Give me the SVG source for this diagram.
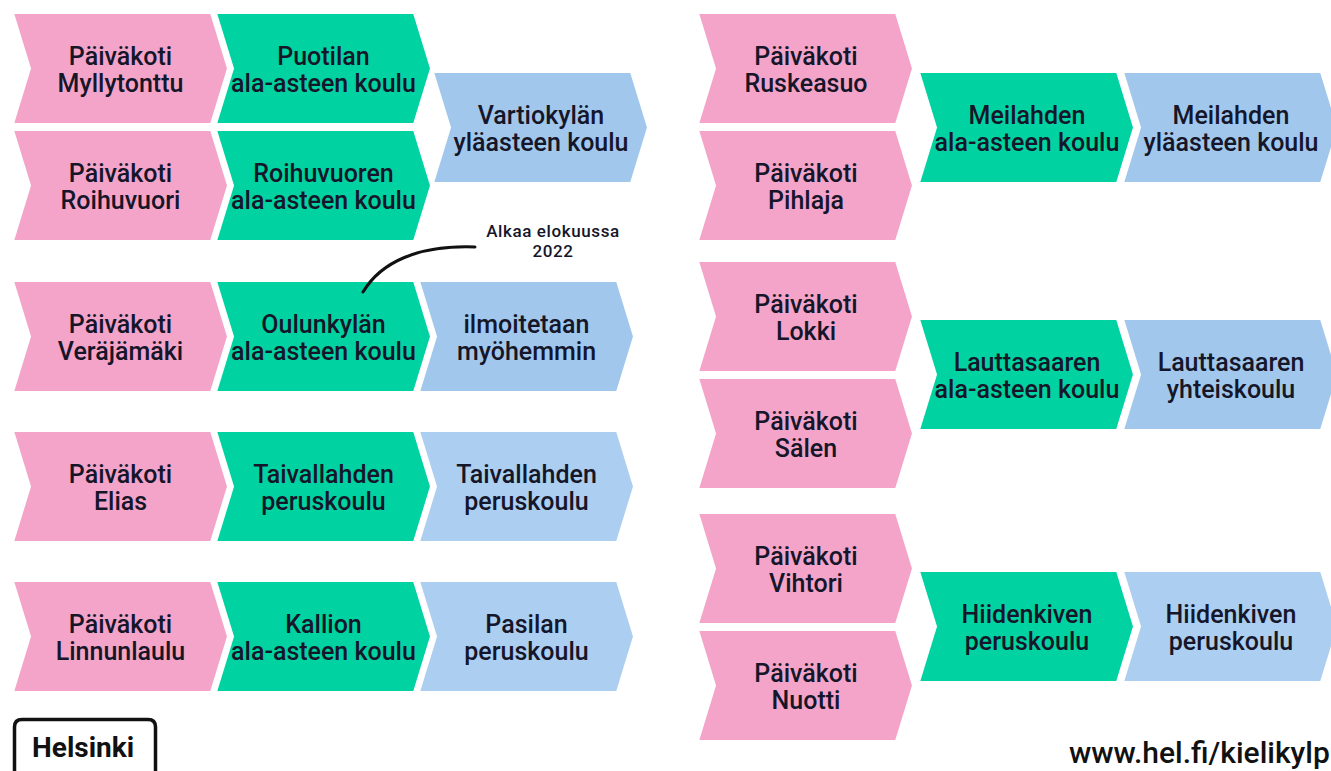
<svg xmlns="http://www.w3.org/2000/svg" xmlns:xlink="http://www.w3.org/1999/xlink" width="1331" height="771" viewBox="0 0 1331 771">
<style>
.pink{fill:#F4A4C8}
.green{fill:#00D3A1}
.blue{fill:#A1C8EC}
.blue2{fill:#ACCEF0}
#chev{stroke:#ffffff;stroke-width:2;stroke-linejoin:miter}
.t{font-family:Roboto,"Liberation Sans",Arial,sans-serif;font-weight:500;font-size:25px;fill:#15162a;text-anchor:middle}
.note{font-family:Roboto,"Liberation Sans",Arial,sans-serif;font-weight:500;font-size:17px;letter-spacing:0.6px;fill:#15162a;text-anchor:middle}
.url{font-family:Roboto,"Liberation Sans",Arial,sans-serif;font-weight:500;font-size:30px;fill:#111}
.logo{font-family:Roboto,"Liberation Sans",Arial,sans-serif;font-weight:700;font-size:28px;fill:#111}
</style>
<defs>
<path id="chev" d="M0,0 L198,0 L215,55.5 L198,111 L0,111 L17,55.5 Z"/>
</defs>
<rect width="1331" height="771" fill="#ffffff"/>

<g id="n-myllytonttu"><use xlink:href="#chev" x="13" y="13" class="pink"/><text class="t"><tspan x="120.5" y="65">Päiväkoti</tspan><tspan x="120.5" y="92">Myllytonttu</tspan></text></g>
<g id="n-roihuvuori"><use xlink:href="#chev" x="13" y="130" class="pink"/><text class="t"><tspan x="120.5" y="182">Päiväkoti</tspan><tspan x="120.5" y="209">Roihuvuori</tspan></text></g>
<g id="n-puotilan"><use xlink:href="#chev" x="216" y="13" class="green"/><text class="t"><tspan x="323.5" y="65">Puotilan</tspan><tspan x="323.5" y="92">ala-asteen koulu</tspan></text></g>
<g id="n-roihuvuoren"><use xlink:href="#chev" x="216" y="130" class="green"/><text class="t"><tspan x="323.5" y="182">Roihuvuoren</tspan><tspan x="323.5" y="209">ala-asteen koulu</tspan></text></g>
<g id="n-vartiokylan"><use xlink:href="#chev" x="433" y="72" class="blue"/><text class="t"><tspan x="541" y="124">Vartiokylän</tspan><tspan x="541" y="151">yläasteen koulu</tspan></text></g>

<g id="n-verajamaki"><use xlink:href="#chev" x="13" y="281" class="pink"/><text class="t"><tspan x="120.5" y="333">Päiväkoti</tspan><tspan x="120.5" y="360">Veräjämäki</tspan></text></g>
<g id="n-oulunkylan"><use xlink:href="#chev" x="216" y="281" class="green"/><text class="t"><tspan x="323.5" y="333">Oulunkylän</tspan><tspan x="323.5" y="360">ala-asteen koulu</tspan></text></g>
<g id="n-ilmoitetaan"><use xlink:href="#chev" x="419" y="281" class="blue"/><text class="t"><tspan x="526.5" y="333">ilmoitetaan</tspan><tspan x="526.5" y="360">myöhemmin</tspan></text></g>
<g id="n-note"><text class="note"><tspan x="553" y="237">Alkaa elokuussa</tspan><tspan x="553" y="257">2022</tspan></text></g>

<g id="n-elias"><use xlink:href="#chev" x="13" y="431" class="pink"/><text class="t"><tspan x="120.5" y="483">Päiväkoti</tspan><tspan x="120.5" y="510">Elias</tspan></text></g>
<g id="n-taivallahden-g"><use xlink:href="#chev" x="216" y="431" class="green"/><text class="t"><tspan x="323.5" y="483">Taivallahden</tspan><tspan x="323.5" y="510">peruskoulu</tspan></text></g>
<g id="n-taivallahden-b"><use xlink:href="#chev" x="419" y="431" class="blue2"/><text class="t"><tspan x="526.5" y="483">Taivallahden</tspan><tspan x="526.5" y="510">peruskoulu</tspan></text></g>

<g id="n-linnunlaulu"><use xlink:href="#chev" x="13" y="581" class="pink"/><text class="t"><tspan x="120.5" y="633">Päiväkoti</tspan><tspan x="120.5" y="660">Linnunlaulu</tspan></text></g>
<g id="n-kallion"><use xlink:href="#chev" x="216" y="581" class="green"/><text class="t"><tspan x="323.5" y="633">Kallion</tspan><tspan x="323.5" y="660">ala-asteen koulu</tspan></text></g>
<g id="n-pasilan"><use xlink:href="#chev" x="419" y="581" class="blue2"/><text class="t"><tspan x="526.5" y="633">Pasilan</tspan><tspan x="526.5" y="660">peruskoulu</tspan></text></g>

<g id="n-ruskeasuo"><use xlink:href="#chev" x="698" y="13" class="pink"/><text class="t"><tspan x="806" y="65">Päiväkoti</tspan><tspan x="806" y="92">Ruskeasuo</tspan></text></g>
<g id="n-pihlaja"><use xlink:href="#chev" x="698" y="130" class="pink"/><text class="t"><tspan x="806" y="182">Päiväkoti</tspan><tspan x="806" y="209">Pihlaja</tspan></text></g>
<g id="n-meilahden-g"><use xlink:href="#chev" x="919" y="72" class="green"/><text class="t"><tspan x="1027" y="124">Meilahden</tspan><tspan x="1027" y="151">ala-asteen koulu</tspan></text></g>
<g id="n-meilahden-b"><use xlink:href="#chev" x="1123" y="72" class="blue"/><text class="t"><tspan x="1231" y="124">Meilahden</tspan><tspan x="1231" y="151">yläasteen koulu</tspan></text></g>

<g id="n-lokki"><use xlink:href="#chev" x="698" y="261" class="pink"/><text class="t"><tspan x="806" y="313">Päiväkoti</tspan><tspan x="806" y="340">Lokki</tspan></text></g>
<g id="n-salen"><use xlink:href="#chev" x="698" y="378" class="pink"/><text class="t"><tspan x="806" y="430">Päiväkoti</tspan><tspan x="806" y="457">Sälen</tspan></text></g>
<g id="n-lauttasaaren-g"><use xlink:href="#chev" x="919" y="319" class="green"/><text class="t"><tspan x="1027" y="371">Lauttasaaren</tspan><tspan x="1027" y="398">ala-asteen koulu</tspan></text></g>
<g id="n-lauttasaaren-b"><use xlink:href="#chev" x="1123" y="319" class="blue"/><text class="t"><tspan x="1231" y="371">Lauttasaaren</tspan><tspan x="1231" y="398">yhteiskoulu</tspan></text></g>

<g id="n-vihtori"><use xlink:href="#chev" x="698" y="513" class="pink"/><text class="t"><tspan x="806" y="565">Päiväkoti</tspan><tspan x="806" y="592">Vihtori</tspan></text></g>
<g id="n-nuotti"><use xlink:href="#chev" x="698" y="630" class="pink"/><text class="t"><tspan x="806" y="682">Päiväkoti</tspan><tspan x="806" y="709">Nuotti</tspan></text></g>
<g id="n-hiidenkiven-g"><use xlink:href="#chev" x="919" y="571" class="green"/><text class="t"><tspan x="1027" y="623">Hiidenkiven</tspan><tspan x="1027" y="650">peruskoulu</tspan></text></g>
<g id="n-hiidenkiven-b"><use xlink:href="#chev" x="1123" y="571" class="blue2"/><text class="t"><tspan x="1231" y="623">Hiidenkiven</tspan><tspan x="1231" y="650">peruskoulu</tspan></text></g>

<g id="connectors">
<path d="M363,292 C381,262 418,245 475,247" fill="none" stroke="#111" stroke-width="3" stroke-linecap="round"/>
</g>

<g id="logo">
<path d="M14.5,775 L14.5,727 Q14.5,719.5 22,719.5 L148,719.5 Q155.5,719.5 155.5,727 L155.5,775" fill="none" stroke="#111" stroke-width="3.5"/>
<text class="logo" x="32" y="757">Helsinki</text>
</g>
<g id="footer">
<text class="url" x="1069" y="763">www.hel.fi/kielikylp</text>
</g>
</svg>
